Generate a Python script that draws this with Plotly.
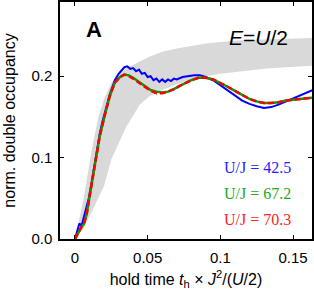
import plotly.graph_objects as go

# ---- data ----
band_t = [0, 0.0057, 0.0114, 0.016, 0.02, 0.025, 0.03, 0.035, 0.0445, 0.051, 0.06, 0.07, 0.08, 0.09, 0.1, 0.115, 0.13, 0.145, 0.165]
band_upper = [0, 0.047, 0.108, 0.149, 0.172, 0.192, 0.202, 0.209, 0.218, 0.224, 0.230, 0.234, 0.237, 0.240, 0.242, 0.244, 0.245, 0.246, 0.247]
band_lower = [0, 0.013, 0.033, 0.05, 0.065, 0.098, 0.117, 0.137, 0.165, 0.175, 0.183, 0.190, 0.196, 0.200, 0.203, 0.206, 0.209, 0.211, 0.213]

blue_t = [0, 0.002, 0.003, 0.0045, 0.006, 0.008, 0.0095, 0.011, 0.0126, 0.0148, 0.0171, 0.019, 0.0205, 0.024, 0.0274,
          0.030, 0.032, 0.034, 0.036, 0.038, 0.040, 0.042, 0.044, 0.046, 0.048, 0.050, 0.052, 0.054, 0.056, 0.058,
          0.060, 0.062, 0.064, 0.066, 0.068, 0.070, 0.074, 0.078, 0.082, 0.086, 0.090, 0.095, 0.100, 0.105, 0.110,
          0.115, 0.120, 0.125, 0.130, 0.135, 0.140, 0.145, 0.150, 0.155, 0.160, 0.165]
blue_v = [0, 0.014, 0.019, 0.016, 0.026, 0.037, 0.050, 0.065, 0.082, 0.106, 0.130, 0.145, 0.156, 0.178, 0.195,
          0.203, 0.207, 0.211, 0.212, 0.209, 0.210, 0.206, 0.208, 0.203, 0.204, 0.199, 0.200, 0.195, 0.197, 0.193,
          0.196, 0.193, 0.196, 0.194, 0.197, 0.196, 0.199, 0.200, 0.201, 0.201, 0.199, 0.195, 0.189, 0.182, 0.176,
          0.170, 0.166, 0.163, 0.161, 0.162, 0.165, 0.169, 0.172, 0.176, 0.180, 0.184]

green_t = [0, 0.003, 0.0045, 0.006, 0.008, 0.0103, 0.0126, 0.0148, 0.0171, 0.0205, 0.024, 0.0274, 0.031, 0.034, 0.037,
           0.040, 0.044, 0.048, 0.052, 0.056, 0.060, 0.064, 0.068, 0.072, 0.076, 0.080, 0.085, 0.090, 0.095, 0.100,
           0.105, 0.110, 0.115, 0.120, 0.125, 0.130, 0.135, 0.140, 0.145, 0.150, 0.155, 0.160, 0.165]
green_v = [0, 0.010, 0.015, 0.018, 0.030, 0.055, 0.078, 0.102, 0.127, 0.152, 0.176, 0.192, 0.199, 0.202, 0.201,
           0.198, 0.193, 0.188, 0.183, 0.181, 0.180, 0.181, 0.184, 0.188, 0.192, 0.195, 0.198, 0.198, 0.196, 0.192,
           0.187, 0.182, 0.177, 0.172, 0.169, 0.167, 0.167, 0.168, 0.170, 0.171, 0.172, 0.173, 0.174]
red_t = green_t
red_v = [0, 0.010, 0.015, 0.018, 0.030, 0.055, 0.078, 0.102, 0.127, 0.152, 0.176, 0.192, 0.199, 0.202, 0.200,
         0.197, 0.192, 0.187, 0.182, 0.179, 0.179, 0.181, 0.184, 0.188, 0.192, 0.195, 0.198, 0.198, 0.196, 0.192,
         0.187, 0.182, 0.177, 0.172, 0.169, 0.167, 0.167, 0.168, 0.170, 0.171, 0.172, 0.173, 0.174]

x_tickvals = [0, 0.05, 0.1, 0.15]
x_ticktext = ["0", "0.05", "0.1", "0.15"]
y_tickvals = [0.0, 0.1, 0.2]
y_ticktext = ["0.0", "0.1", "0.2"]

legend_labels = ["U/J = 42.5", "U/J = 67.2", "U/J = 70.3"]
legend_colors = ["#2222ff", "#22aa22", "#ff2222"]

fig = go.Figure()
fig.add_trace(go.Scatter(x=band_t, y=band_lower, mode="lines", line=dict(width=0), hoverinfo="skip", showlegend=False))
fig.add_trace(go.Scatter(x=band_t, y=band_upper, mode="lines", line=dict(width=0), fill="tonexty",
                         fillcolor="#d9d9d9", hoverinfo="skip", showlegend=False))
fig.add_trace(go.Scatter(x=blue_t, y=blue_v, mode="lines", line=dict(color="#0000ff", width=2), showlegend=False))
fig.add_trace(go.Scatter(x=green_t, y=green_v, mode="lines", line=dict(color="#00a000", width=2.5), showlegend=False))
fig.add_trace(go.Scatter(x=red_t, y=red_v, mode="lines", line=dict(color="#ff0000", width=2.5, dash="6px,3px"), showlegend=False))

font_sans = "Liberation Sans, Arial, sans-serif"
fig.update_layout(
    width=314, height=292,
    margin=dict(l=60, r=1, t=0, b=53),
    paper_bgcolor="white", plot_bgcolor="white",
    font=dict(family=font_sans, size=15, color="black"),
    showlegend=False,
    xaxis=dict(range=[-0.0103, 0.1630], tickvals=x_tickvals, ticktext=x_ticktext,
               ticks="inside", ticklen=4, tickwidth=1, tickcolor="black",
               showline=True, linecolor="black", linewidth=1.5, mirror="ticks",
               showgrid=False, zeroline=False, ticklabelstandoff=4,
               title=dict(text="hold time <i>t</i><sub>h</sub> × <i>J</i><sup>2</sup>/(<i>U</i>/2)",
                          font=dict(size=16), standoff=9)),
    yaxis=dict(range=[0, 0.2911], tickvals=y_tickvals, ticktext=y_ticktext,
               ticks="inside", ticklen=4, tickwidth=1, tickcolor="black",
               showline=True, linecolor="black", linewidth=1.5, mirror="ticks",
               showgrid=False, zeroline=False, ticklabelstandoff=3,
               title=dict(text="norm. double occupancy", font=dict(size=16), standoff=12)),
)

fig.add_annotation(text="<b>A</b>", x=0.136, y=0.883, xref="paper", yref="paper",
                   showarrow=False, font=dict(size=22, family=font_sans), xanchor="center", yanchor="middle")
fig.add_annotation(text="<i>E</i>=<i>U</i>/2", x=0.912, y=0.851, xref="paper", yref="paper",
                   showarrow=False, font=dict(size=21, family=font_sans), xanchor="right", yanchor="middle")
legend_y = [0.300, 0.190, 0.083]
for lab, col, yy in zip(legend_labels, legend_colors, legend_y):
    fig.add_annotation(text=lab, x=0.926, y=yy, xref="paper", yref="paper", showarrow=False,
                       font=dict(size=16, family="Liberation Serif, Times New Roman, serif", color=col),
                       xanchor="right", yanchor="middle")

fig.write_html("out.html", config={"displayModeBar": False},
               post_script="document.body.style.margin='0';document.body.style.padding='0';")
